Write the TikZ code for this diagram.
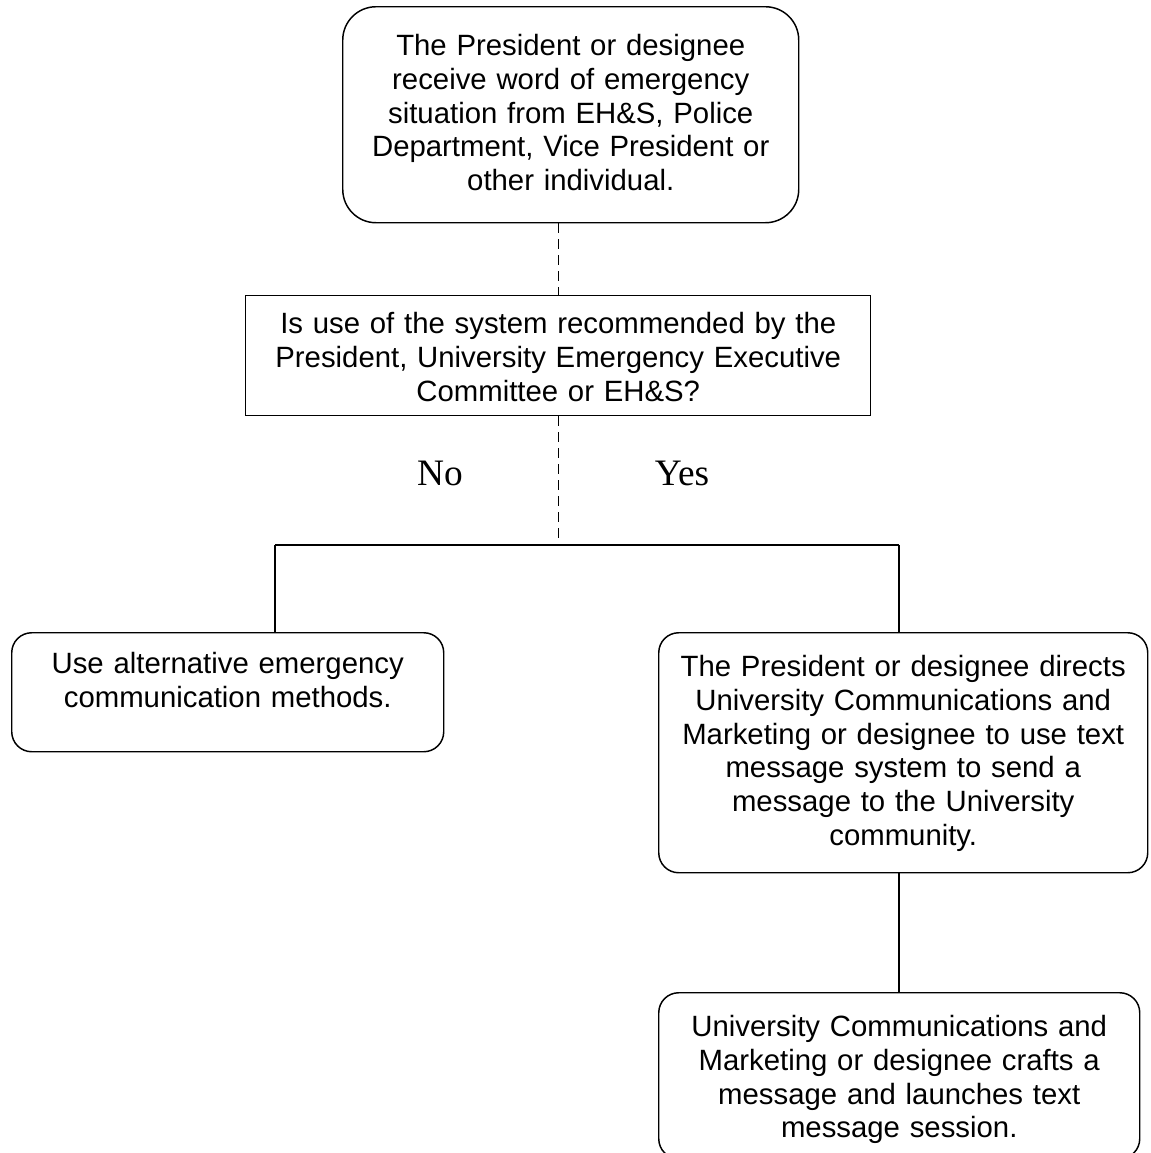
\documentclass[tikz,border=0pt]{standalone}
\usepackage{fontspec}
\setmainfont{Liberation Sans}
\newfontfamily\labelserif{Liberation Serif}
\begin{document}
\begin{tikzpicture}[x=0.75pt,y=-0.75pt,
  line width=1.1pt,
  boxbase/.style={draw=black, anchor=north west, inner sep=0pt, align=center,
    font=\fontsize{22}{25.3}\selectfont},
  roundbox/.style={boxbase, rounded corners=15pt},
  bigroundbox/.style={boxbase, rounded corners=25pt},
  squarebox/.style={boxbase},
  dashline/.style={dash pattern=on 7pt off 5pt},
  answer/.style={anchor=base, inner sep=0pt, font=\labelserif\fontsize{28}{32}\selectfont}
]
\clip (0,0) rectangle (1150,1153);
\fill[white] (0,0) rectangle (1150,1153);

\node[bigroundbox, text width=342pt, minimum width=342pt, text height=36.75pt, text depth=125.25pt]
  (top) at (342,6) {The President or designee\\receive word of emergency\\situation from EH\&S, Police\\Department, Vice President or\\other individual.};

\node[squarebox, text width=468.75pt, minimum width=468.75pt, text height=28.5pt, text depth=61.5pt]
  (q) at (245,295) {Is use of the system recommended by the\\President, University Emergency Executive\\Committee or EH\&S?};

\node[roundbox, text width=324pt, minimum width=324pt, text height=30.75pt, text depth=58.5pt]
  (left) at (11,632) {Use alternative emergency\\communication methods.};

\node[roundbox, text width=366.75pt, minimum width=366.75pt, text height=33pt, text depth=147pt]
  (right) at (658,632) {The President or designee directs\\University Communications and\\Marketing or designee to use text\\message system to send a\\message to the University\\community.};

\node[roundbox, text width=360.75pt, minimum width=360.75pt, text height=33pt, text depth=91.5pt]
  (bot) at (658,992) {University Communications and\\Marketing or designee crafts a\\message and launches text\\message session.};

\node[answer] (no) at (440,485) {No};
\node[answer] (yes) at (682,485) {Yes};

\coordinate (jl) at (275,545);
\coordinate (jr) at (899,545);

\draw[dashline] (q.north |- top.south) -- (q.north);
\draw[dashline] (q.south) -- (q.south |- jl);
\draw (jl) -- (jr);
\draw (jl) -- (jl |- left.north);
\draw (jr) -- (jr |- right.north);
\draw (jr |- right.south) -- (jr |- bot.north);
\end{tikzpicture}
\end{document}
